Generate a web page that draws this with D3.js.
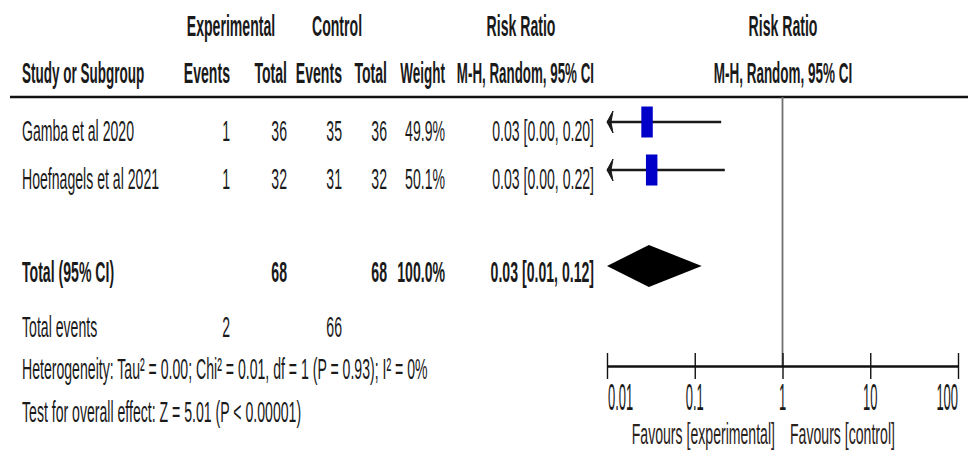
<!DOCTYPE html>
<html>
<head>
<meta charset="utf-8">
<script src="https://cdn.jsdelivr.net/npm/d3@7/dist/d3.min.js"></script>
<style>
  html, body { margin: 0; padding: 0; background: #fff; }
  svg { display: block; }
  text { font-family: "Liberation Sans", Arial, sans-serif; fill: #1a1a1a; }
</style>
</head>
<body>
<svg id="chart" width="970" height="458"></svg>
<script>
// Study-level data (risk ratio, M-H random effects)
const studies     = ["Gamba et al 2020", "Hoefnagels et al 2021"];
const expEvents   = [1, 1];
const expTotal    = [36, 32];
const ctrlEvents  = [35, 31];
const ctrlTotal   = [36, 32];
const weights     = [49.9, 50.1];
const rr          = [0.0286, 0.0323];
const rrLower     = [0.004, 0.0045];
const rrUpper     = [0.20, 0.22];

// Pooled estimate
const pooled      = { label: "Total (95% CI)", expTotal: 68, ctrlTotal: 68, weight: 100.0, rr: 0.03, lower: 0.01, upper: 0.12 };
const totalEvents = { exp: 2, ctrl: 66 };
const heterogeneity = "Heterogeneity: Tau\u00B2 = 0.00; Chi\u00B2 = 0.01, df = 1 (P = 0.93); I\u00B2 = 0%";
const overallEffect = "Test for overall effect: Z = 5.01 (P < 0.00001)";

// Axis
const tickValues  = [0.01, 0.1, 1, 10, 100];
const tickLabels  = ["0.01", "0.1", "1", "10", "100"];
const favoursLeft = "Favours [experimental]";
const favoursRight = "Favours [control]";

const svg = d3.select("#chart");
const fmt = d3.format(".2f");

// Condensed lettering: glyphs are squeezed horizontally
const SX = 0.47;
const FS = 30;
function label(x, y, str, opts = {}) {
  const sx = opts.sx || SX;
  return svg.append("text")
    .attr("transform", `translate(${x},${y}) scale(${sx},1)`)
    .attr("text-anchor", opts.anchor || "start")
    .attr("font-size", opts.size || FS)
    .attr("font-weight", opts.bold ? "bold" : "normal")
    .style("fill", opts.fill || null)
    .text(str);
}

// Column right edges
const col = { study: 22, expEv: 230, expTot: 287, ctrlEv: 342, ctrlTot: 387, weight: 445, ci: 594 };

// Header
label(231, 36, "Experimental", { anchor: "middle", bold: true });
label(337, 36, "Control", { anchor: "middle", bold: true });
label(521, 36, "Risk Ratio", { anchor: "middle", bold: true });
label(783, 36, "Risk Ratio", { anchor: "middle", bold: true });
label(col.study, 83, "Study or Subgroup", { bold: true, sx: 0.45 });
label(col.expEv, 83, "Events", { anchor: "end", bold: true });
label(col.expTot, 83, "Total", { anchor: "end", bold: true });
label(col.ctrlEv, 83, "Events", { anchor: "end", bold: true });
label(col.ctrlTot, 83, "Total", { anchor: "end", bold: true });
label(col.weight, 83, "Weight", { anchor: "end", bold: true, sx: 0.45 });
label(col.ci, 83, "M-H, Random, 95% CI", { anchor: "end", bold: true, sx: 0.445 });
label(783, 83, "M-H, Random, 95% CI", { anchor: "middle", bold: true, sx: 0.45 });

svg.append("line")
  .attr("x1", 10).attr("x2", 968).attr("y1", 97).attr("y2", 97)
  .attr("stroke", "#111").attr("stroke-width", 2.6);

// Scales
const x = d3.scaleLog().domain([0.01, 100]).range([607, 958]);
const rowY = d3.scalePoint().domain(studies).range([122, 170]);
const rowBase = d => rowY(d) + 19;
const boxH = d3.scaleSqrt().domain([0, 50]).range([0, 31]);
const axisY = 366;

// Line of no effect
svg.append("line")
  .attr("x1", x(1)).attr("x2", x(1)).attr("y1", 97).attr("y2", axisY)
  .attr("stroke", "#707070").attr("stroke-width", 1.8);

// Study rows
studies.forEach((s, i) => {
  const by = rowBase(s);
  label(col.study, by, s);
  label(col.expEv, by, expEvents[i], { anchor: "end" });
  label(col.expTot, by, expTotal[i], { anchor: "end" });
  label(col.ctrlEv, by, ctrlEvents[i], { anchor: "end" });
  label(col.ctrlTot, by, ctrlTotal[i], { anchor: "end" });
  label(col.weight, by, weights[i].toFixed(1) + "%", { anchor: "end" });
  label(col.ci, by, `${fmt(rr[i])} [${fmt(rrLower[i])}, ${fmt(rrUpper[i])}]`, { anchor: "end" });

  const cy = rowY(s);
  const lo = Math.max(rrLower[i], x.domain()[0]);
  const hi = Math.min(rrUpper[i], x.domain()[1]);
  svg.append("line")
    .attr("x1", x(lo)).attr("x2", x(hi)).attr("y1", cy).attr("y2", cy)
    .attr("stroke", "#1a1a1a").attr("stroke-width", 2.6);
  // Arrow where the interval runs past the axis
  if (rrLower[i] < x.domain()[0]) {
    const ax = x(x.domain()[0]);
    svg.append("path")
      .attr("d", `M${ax},${cy} L${ax + 6},${cy - 11} L${ax + 4},${cy} L${ax + 6},${cy + 11} Z`)
      .attr("fill", "#1a1a1a").attr("stroke", "#1a1a1a").attr("stroke-width", 1);
  }
  const h = boxH(weights[i]);
  const w = h * 0.37;
  svg.append("rect")
    .attr("x", x(rr[i]) - w / 2).attr("y", cy - h / 2)
    .attr("width", w).attr("height", h)
    .attr("fill", "#0000c8");
});

// Pooled row
const totY = 266, totBase = 282;
label(col.study, totBase, pooled.label, { bold: true });
label(col.expTot, totBase, pooled.expTotal, { anchor: "end", bold: true });
label(col.ctrlTot, totBase, pooled.ctrlTotal, { anchor: "end", bold: true });
label(col.weight, totBase, pooled.weight.toFixed(1) + "%", { anchor: "end", bold: true });
label(col.ci, totBase, `${fmt(pooled.rr)} [${fmt(pooled.lower)}, ${fmt(pooled.upper)}]`, { anchor: "end", bold: true });
svg.append("path")
  .attr("d", `M${x(pooled.lower)},${totY} L${x(pooled.rr)},${totY - 21} L${x(pooled.upper)},${totY} L${x(pooled.rr)},${totY + 21} Z`)
  .attr("fill", "#000");

// Footer
label(col.study, 337, "Total events");
label(col.expEv, 337, totalEvents.exp, { anchor: "end" });
label(col.ctrlEv, 337, totalEvents.ctrl, { anchor: "end" });
label(col.study, 379, heterogeneity);
label(col.study, 422, overallEffect);

// Axis
const axis = d3.axisBottom(x).tickValues(tickValues).tickFormat("").tickSizeOuter(0);
const gAxis = svg.append("g").attr("transform", `translate(0,${axisY})`).call(axis);
gAxis.select(".domain").attr("stroke", "#111").attr("stroke-width", 2.6);
gAxis.selectAll(".tick line").attr("y1", -13).attr("y2", 13).attr("stroke", "#111").attr("stroke-width", 1.4);

tickValues.forEach((v, i) => {
  const anchor = i === 0 ? "start" : (i === tickValues.length - 1 ? "end" : "middle");
  label(x(v) + (i === 0 ? 1 : 0), 410, tickLabels[i], { anchor, size: 36, sx: 0.36 });
});

label(775, 444, favoursLeft, { anchor: "end", fill: "#2a221a" });
label(790, 444, favoursRight, { fill: "#2a221a" });
</script>
</body>
</html>
